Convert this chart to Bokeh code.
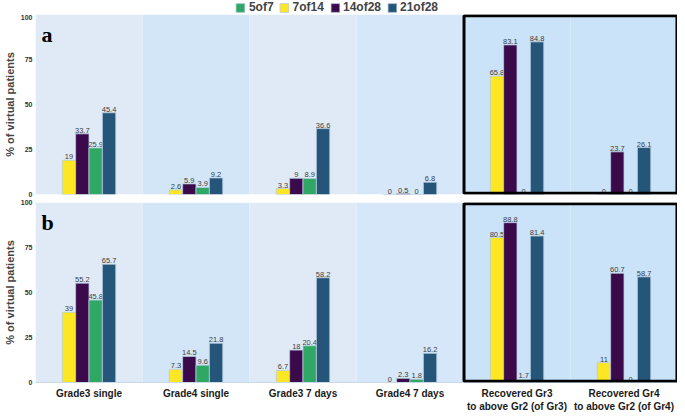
from bokeh.plotting import figure
from bokeh.layouts import column
from bokeh.models import (ColumnDataSource, FactorRange, Range1d, Legend, LegendItem,
                          BoxAnnotation, Label, FixedTicker)
from bokeh.transform import dodge
from bokeh.core.properties import value
from bokeh.embed import file_html
from bokeh.resources import INLINE

categories = ["Grade3 single", "Grade4 single", "Grade3 7 days", "Grade4 7 days",
              "Recovered Gr3\nto above Gr2 (of Gr3)", "Recovered Gr4\nto above Gr2 (of Gr4)"]
series = ["7of14", "14of28", "5of7", "21of28"]
legend_order = ["5of7", "7of14", "14of28", "21of28"]
colors = {"7of14": "#fde725", "14of28": "#3b0a4b", "5of7": "#2ea864", "21of28": "#26557a"}

a_7of14 = [19, 2.6, 3.3, 0, 65.8, 0]
a_14of28 = [33.7, 5.9, 9, 0.5, 83.1, 23.7]
a_5of7 = [25.9, 3.9, 8.9, 0, 0, 0]
a_21of28 = [45.4, 9.2, 36.6, 6.8, 84.8, 26.1]

b_7of14 = [39, 7.3, 6.7, 0, 80.5, 11]
b_14of28 = [55.2, 14.5, 18, 2.3, 88.8, 60.7]
b_5of7 = [45.8, 9.6, 20.4, 1.8, 1.7, 0]
b_21of28 = [65.7, 21.8, 58.2, 16.2, 81.4, 58.7]

y_ticks = [0, 25, 50, 75, 100]
band_colors = ["#dfeaf6", "#d3e6f8", "#dfeaf6", "#d5e7f8", "#cae3f8", "#cae3f8"]
boxed = categories[4:]

offsets = {"7of14": -0.1875, "14of28": -0.0625, "5of7": 0.0625, "21of28": 0.1875}
FONT = "Liberation Sans"
LEFT = 31
FW = 642
FH = 180


def make_panel(vals, letter, show_x):
    p = figure(x_range=FactorRange(*categories), y_range=Range1d(0, 100),
               frame_width=FW, frame_height=FH, output_backend="svg",
               toolbar_location=None, min_border_left=LEFT, min_border_right=0,
               min_border_top=0 if not show_x else 3,
               min_border_bottom=5 if not show_x else 0)
    p.background_fill_color = "white"
    p.outline_line_color = None
    p.vbar(x=categories, top=100, width=1.0, fill_color=band_colors, line_color=None)
    p.xgrid.grid_line_color = "#ffffff"
    p.xgrid.grid_line_alpha = 0.35
    p.ygrid.grid_line_color = "#ffffff"
    p.ygrid.grid_line_alpha = 0.35
    for s in series:
        src = ColumnDataSource(dict(x=categories, top=vals[s],
                                    lab=[f"{v:g}" for v in vals[s]]))
        p.vbar(x=dodge("x", offsets[s], range=p.x_range), top="top", width=0.125,
               source=src, fill_color=colors[s], line_color="#b8cde0", line_width=0.8)
        p.text(x=dodge("x", offsets[s], range=p.x_range), y="top", text="lab", source=src,
               text_align="center", text_baseline="bottom", y_offset=-1,
               text_font=value(FONT), text_font_size="7.5px", text_color="#404040")
    left = categories.index(boxed[0])
    right = left + len(boxed)
    p.add_layout(BoxAnnotation(left=left + 0.005, right=right - 0.005, bottom=0.7, top=99.3,
                               fill_color=None, line_color="black", line_alpha=1.0,
                               line_width=3))
    p.add_layout(Label(x=6, y=FH - 7, x_units="screen", y_units="screen", text=letter,
                       text_font="Liberation Serif", text_font_style="bold",
                       text_font_size="22px", text_color="black",
                       text_baseline="top"))
    p.yaxis.ticker = FixedTicker(ticks=y_ticks)
    p.yaxis.axis_label = "% of virtual patients"
    p.yaxis.axis_label_text_font = FONT
    p.yaxis.axis_label_text_font_style = "bold"
    p.yaxis.axis_label_text_font_size = "11px"
    p.yaxis.axis_label_standoff = 2
    p.yaxis.major_label_text_font = FONT
    p.yaxis.major_label_text_font_style = "bold"
    p.yaxis.major_label_text_font_size = "7px"
    p.yaxis.major_label_text_color = "#333333"
    p.yaxis.major_label_standoff = 3
    p.yaxis.axis_line_color = None
    p.yaxis.major_tick_line_color = None
    p.yaxis.minor_tick_line_color = None
    p.yaxis.major_tick_out = 0
    p.yaxis.minor_tick_out = 0
    p.xaxis.axis_line_color = "#c8d8e8"
    p.xaxis.major_tick_line_color = None
    p.xaxis.minor_tick_line_color = None
    p.xaxis.major_tick_out = 0
    p.xaxis.minor_tick_out = 0
    if show_x:
        p.xaxis.major_label_text_font = FONT
        p.xaxis.major_label_text_font_style = "bold"
        p.xaxis.major_label_text_font_size = "10px"
        p.xaxis.major_label_text_color = "#1a1a1a"
        p.xaxis.major_label_standoff = 5
        p.xaxis.major_label_orientation = "horizontal"
    else:
        p.xaxis.visible = False
    return p


# legend strip
pl = figure(frame_width=FW, height=14, output_backend="svg", toolbar_location=None,
            x_range=Range1d(0, 1), y_range=Range1d(0, 1),
            min_border_left=LEFT, min_border_right=0, min_border_top=0, min_border_bottom=0)
pl.axis.visible = False
pl.grid.visible = False
pl.outline_line_color = None
items = []
for s in legend_order:
    r = pl.vbar(x=[0.5], bottom=[-2], top=[-1], width=0.1, fill_color=colors[s],
                line_color="#b8cde0", line_width=0.8)
    items.append(LegendItem(label=s, renderers=[r]))
leg = Legend(items=items, orientation="horizontal", location="center",
             label_text_font=FONT, label_text_font_style="bold",
             label_text_font_size="12px", glyph_width=11, glyph_height=11,
             label_standoff=3, spacing=5, padding=0, margin=0,
             background_fill_alpha=0, border_line_color=None, label_height=12)
pl.add_layout(leg)

pa = make_panel({"7of14": a_7of14, "14of28": a_14of28, "5of7": a_5of7, "21of28": a_21of28},
                "a", False)
pb = make_panel({"7of14": b_7of14, "14of28": b_14of28, "5of7": b_5of7, "21of28": b_21of28},
                "b", True)

layout = column(pl, pa, pb, spacing=0)
open("out.html", "w").write(file_html(layout, INLINE))
